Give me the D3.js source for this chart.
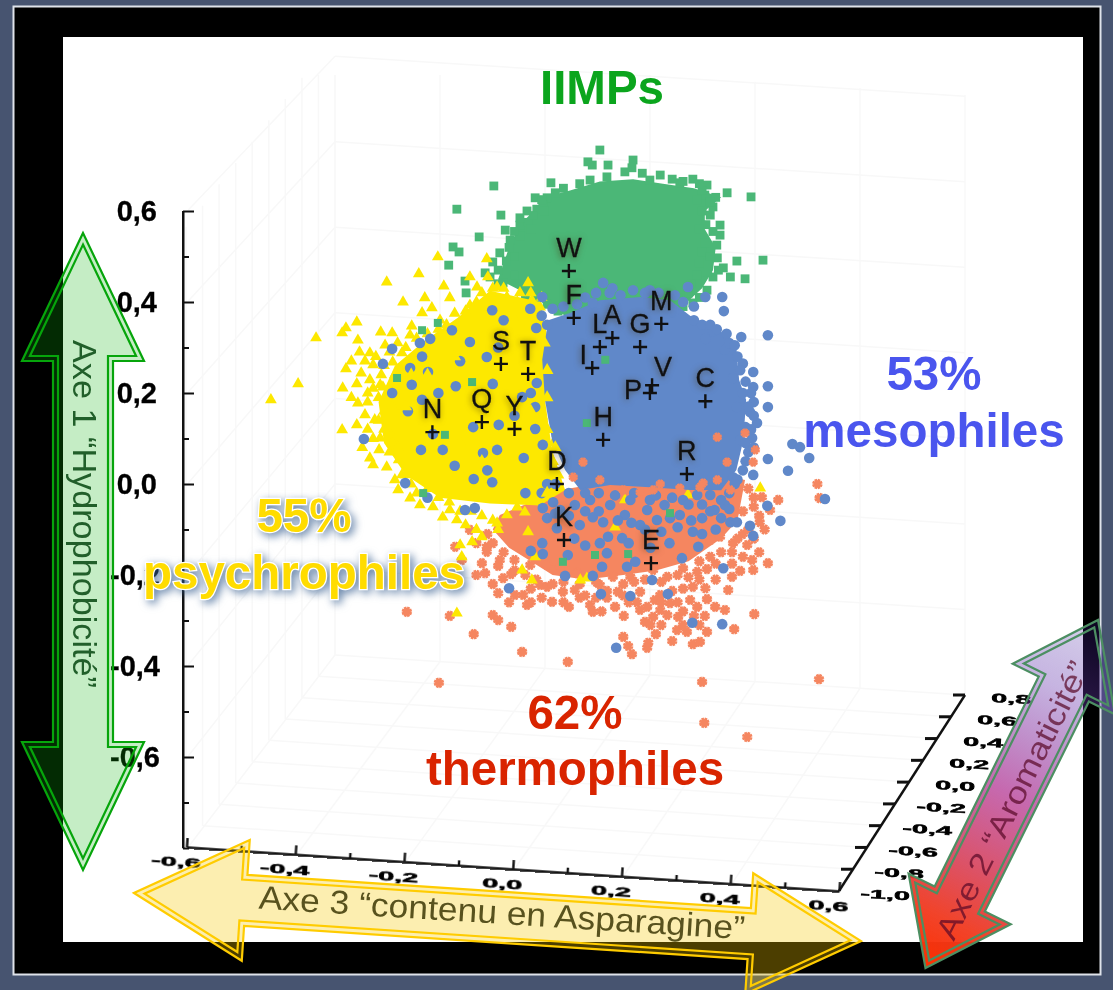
<!DOCTYPE html>
<html><head><meta charset="utf-8">
<script src="https://cdnjs.cloudflare.com/ajax/libs/d3/7.8.5/d3.min.js"></script>
<style>html,body{margin:0;padding:0;background:#475470}svg{display:block;font-family:"Liberation Sans",Arial,sans-serif}</style>
</head><body><svg id="c" width="1113" height="990"></svg>
<script>
// ---- tick values
const hydroMajor=[-0.6,-0.4,-0.2,0,0.2,0.4,0.6];
const hydroMinor=[-0.8,-0.7,-0.5,-0.3,-0.1,0.1,0.3,0.5];
const asnMajor=[-0.6,-0.4,-0.2,0,0.2,0.4,0.6];
const asnMinor=[-0.5,-0.3,-0.1,0.1,0.3,0.5];
const aroTicks=[-1,-0.8,-0.6,-0.4,-0.2,0,0.2,0.4,0.6,0.8];
// ---- dense core outlines of each cloud [axe 3, axe 1]
const greenCore=[[.102,.645],[.157,.665],[.218,.67],[.273,.66],[.33,.65],[.38,.63],[.35,.6],[.35,.56],[.37,.52],[.365,.47],[.345,.43],[.3,.38],[.108,.36],[.02,.42],[-.03,.45],[-.01,.52],[.01,.57],[.035,.6],[.07,.635]];
const blueCore=[[.062,.36],[.102,.376],[.157,.404],[.231,.411],[.286,.404],[.323,.37],[.38,.335],[.408,.3],[.413,.229],[.426,.185],[.421,.097],[.408,.031],[.38,-.014],[.323,-.013],[.249,-.007],[.176,-.002],[.121,-.013],[.093,.031],[.069,.097],[.056,.185],[.051,.273]];
const yellowCore=[[-.045,.425],[.047,.4],[.062,.316],[.056,.185],[.069,.075],[.093,-.013],[.047,-.047],[-.045,-.043],[-.137,-.03],[-.2,.02],[-.24,.09],[-.25,.18],[-.22,.26],[-.165,.315],[-.105,.365]];
const orangeCore=[[-.027,-.068],[.084,-.013],[.194,.009],[.341,.031],[.424,.009],[.41,-.08],[.38,-.12],[.32,-.17],[.26,-.19],[.2,-.2],[.13,-.21],[.07,-.2],[.03,-.17],[-.01,-.14],[-.04,-.1]];
// ---- individual points [axe 3, axe 1]
const greenPts=[[.157,.734],[.135,.708],[.143,.701],[.172,.701],[.218,.712],[.216,.695],[-.038,.655],[.067,.662],[-.106,.604],[.038,.629],[.06,.629],[.023,.6],[.041,.604],[-.025,.591],[-.017,.558],[-.065,.543],[-.113,.521],[-.102,.51],[-.121,.481],[-.091,.446],[-.089,.42],[.328,.67],[.354,.657],[.435,.631],[.378,.569],[.409,.49],[.457,.492],[.424,.451],[.397,.455],[.391,.64],[-.027,.508],[-.054,.464],[-.021,.442],[.365,.609],[.36,.591],[.378,.547],[.373,.497],[.384,.475],[.365,.455],[.336,.448],[.354,.426],[.328,.398],[.139,.668],[.203,.686],[.268,.679],[.249,.668],[.304,.662],[.052,.613],[.01,.569],[-.008,.536],[-.04,.488],
[.345,.6],[.352,.57],[.34,.56],[.365,.555],[.35,.53],[.372,.525],[.345,.51],[.36,.5],[.34,.485],[.375,.47],[.355,.465],[.335,.46],[.32,.42],[.34,.41],[.31,.39],[.325,.44],[.3,.41],[.37,.63],[.35,.635],[.335,.625],[.36,.62],[.345,.645],
[-.03,.47],[-.015,.49],[0,.46],[.015,.44],[.03,.43],[-.045,.455],[-.03,.44],[0,.5],[-.01,.52],[.01,.545],[0,.555],[.025,.575],[.01,.585],[.035,.59],[.055,.6],[.03,.56],[.05,.625],[.075,.64],[.09,.65],[.12,.66],[.17,.675],[.235,.683],[.29,.67],[.31,.665],[.34,.66],[.045,.41],[.06,.395],[.08,.38],[.03,.4],[.02,.415]];
const greenStray=[[-.141,.354],[-.17,.338],[-.216,.233],[-.078,.224],[-.128,.108],[-.168,-.02],[.089,-.171],[.148,-.156],[.209,-.154],[.286,-.064],[.167,.273],[.133,.134]];
const bluePts=[[.351,.411],[.382,.411],[.385,.38],[.417,.323],[.466,.327],[.365,.336],[.351,.319],[.387,.295],[.439,.246],[.466,.215],[.439,.213],[.466,.169],[.433,.158],[.446,.134],[.402,.233],[.409,.169],[.437,.101],[.466,.055],[.511,.088],[.525,.081],[.542,.057],[.503,.029],[.439,.02],[.402,.015],[.415,.097],[.489,-.081],[.571,-.033],[.465,-.048],[.433,-.092],[.439,-.114],[.397,-.084],[.338,-.138],[.384,-.185],[.308,-.163],[.253,-.211],[.282,-.242],[.213,-.246],[.159,-.242],[.327,-.305],[.382,-.308],[.187,-.36],[-.01,-.229],[.093,-.202],[.144,-.202],[.161,-.182],[.207,-.182],[.222,-.171],[.17,-.152],[.052,-.154],[.03,-.147],[.098,-.156],[.157,-.13],[.051,-.13],[.078,-.097],[.144,-.073],[.198,-.119],[.172,-.116],[.328,-.105],[.286,-.075],[.262,-.079],[.163,-.084],[.203,-.068],[.244,-.057],[.336,-.024],[.36,-.024],[.31,-.035],[.409,-.084],[.071,-.04],[.052,-.053],[-.073,-.053],[-.091,-.057],[-.201,.002],[-.041,.004],[-.277,.099],[-.225,.297],[-.242,.264],[-.192,.255],[-.159,.246],[-.189,.218],[-.225,.2],[-.196,.16],[-.17,.185],[-.108,.215],[-.115,.338],[-.174,.31],[-.155,.319],[-.082,.312],[-.041,.382],[.029,.385],[.051,.411],[.04,.343],[-.051,.279],[-.029,.13],[-.076,.125],[.038,.121],[-.032,.075],[-.058,.068],[.017,.057],[-.172,.075],[-.132,.075],[-.075,.011],[.052,.086],[.038,.169],[.014,.191],[.041,.222],[.163,.442],[.218,.426],[.249,.426],[.144,.398],[.319,.433],[.292,.378],[.084,-.057],[.111,-.046],[.139,-.035],[.176,-.046],[.213,-.035],[.249,-.035],[.276,-.046],[.304,-.068],[.368,-.057],[.387,-.046],[.231,-.09],[.12,-.09],
[.33,.36],[.345,.35],[.36,.35],[.372,.34],[.39,.33],[.395,.31],[.405,.305],[.41,.28],[.42,.265],[.415,.25],[.425,.225],[.435,.2],[.42,.2],[.44,.18],[.43,.17],[.44,.15],[.425,.125],[.435,.12],[.425,.09],[.43,.07],[.425,.05],[.42,.03],[.41,.01],[.395,-.02],[.38,-.035],[.405,0],[.44,.08],
[.05,.37],[.07,.385],[.09,.39],[.115,.395],[.13,.41],[.15,.42],[.175,.42],[.195,.415],[.24,.42],[.265,.42],[.295,.415],[.31,.4],[.33,.39],[.18,.43],[.06,.35],
[.1,-.02],[.13,-.02],[.155,-.02],[.185,-.025],[.22,-.02],[.26,-.025],[.29,-.03],[.32,-.045],[.345,-.045],[.36,-.06],[.38,-.075],[.345,-.075],[.325,-.08],[.3,-.095],[.27,-.105],[.24,-.1],[.215,-.085],[.19,-.08],[.155,-.06],[.13,-.06],[.1,-.07],[.075,-.065],[.21,-.13],[.25,-.14],[.285,-.13],[.13,-.135],[.11,-.12],[.345,-.11],[.37,-.1],[.395,-.055],[.06,-.075],[.05,-.02],[.06,0],[.075,0],
[-.17,.28],[-.1,.27],[-.03,.3],[-.02,.36],[-.14,.2],[-.04,.22],[-.15,.11],[0,.15],[-.11,.04],[-.05,.03],[-.16,-.03],[.02,-.02],[.03,.2]];
const orangePts=[[-.198,-.281],[-.119,-.29],[-.04,-.288],[-.03,-.299],[-.075,-.33],[-.006,-.314],[.014,-.369],[.098,-.391],[-.139,-.437],[.023,-.266],[.001,-.244],[.016,-.244],[-.021,-.207],[-.006,-.198],[-.054,-.196],[-.06,-.174],[-.051,-.149],[-.109,-.138],[-.051,-.138],[.047,-.222],[.06,-.226],[.069,-.259],[.089,-.237],[.111,-.233],[.139,-.266],[.144,-.281],[.201,-.29],[.2,-.336],[.209,-.356],[.216,-.374],[.244,-.36],[.246,-.349],[.29,-.345],[.328,-.352],[.341,-.347],[.354,-.325],[.317,-.325],[.404,-.319],[.441,-.286],[.369,-.27],[.336,-.27],[.354,-.253],[.328,-.226],[.351,-.229],[.393,-.233],[.4,-.204],[.415,-.191],[.439,-.189],[.466,-.174],[.437,-.167],[.354,-.187],[.336,-.193],[.31,-.185],[.428,-.134],[.402,-.13],[.378,-.116],[.36,-.123],[.301,-.292],[.281,-.288],[.255,-.292],[.24,-.303],[.244,-.27],[.268,-.244],[.286,-.262],[.299,-.321],[.185,-.27],[.19,-.237],[.231,-.237],[.157,-.222],[.181,-.204],[.213,-.204],[.255,-.189],[.281,-.204],[.06,-.178],[.084,-.182],[.115,-.196],[.345,-.435],[.56,-.429],[.349,-.525],[.428,-.556],[.557,0],[.485,-.035],[.455,-.029],[.268,-.277],[.323,-.255],[.387,-.277],[.258,-.255],[.231,-.277],[-.027,-.167],[.029,-.178],[0,-.167],[.451,-.084],[.47,-.057],[.561,-.031],[-.082,-.101],[-.097,-.167],
[-.05,-.11],[-.04,-.13],[-.02,-.15],[-.07,-.13],[-.03,-.18],[0,-.19],[.02,-.2],[.04,-.21],[.03,-.23],[.07,-.22],[.09,-.215],[.12,-.22],[.15,-.215],[.13,-.245],[.17,-.235],[.2,-.22],[.22,-.215],[.24,-.21],[.27,-.215],[.3,-.2],[.32,-.205],[.34,-.17],[.36,-.16],[.38,-.15],[.4,-.15],[.42,-.11],[.43,-.1],[.44,-.12],[.45,-.15],[.42,-.16],[.4,-.175],[.37,-.175],[.37,-.21],[.34,-.21],[.31,-.23],[.29,-.235],[.27,-.26],[.3,-.26],[.31,-.28],[.33,-.29],[.35,-.29],[.25,-.31],[.27,-.31],[.26,-.33],[.31,-.31],[.34,-.31],[.21,-.26],[.17,-.25],[.15,-.25],[.2,-.245],[.225,-.26],[.16,-.28],[.12,-.25],[.09,-.26],[.1,-.27],[.05,-.25],[.03,-.26],[-.01,-.26],[-.04,-.22],[-.03,-.24],[-.07,-.2],[.42,-.06],[.44,-.05],[.44,-.03],[.43,-.01],[.45,-.07],[.46,-.1],[.41,-.12]];
const orangeOverBlue=[[.373,.103],[.424,.112],[.443,.075],[.439,.048],[.373,.009],[.347,.002],[.391,.048],[.255,-.013],[.2,-.013],[.157,.009],[.126,.048],[.108,.015],[.397,-.013],[.341,-.007],[.304,-.009],[.268,0],[.231,-.018]];
const yellowPts=[[-.141,.499],[-.176,.462],[-.235,.444],[-.205,.4],[-.165,.409],[-.13,.435],[-.119,.409],[-.17,.376],[-.152,.387],[-.29,.356],[-.31,.343],[-.317,.332],[-.246,.334],[-.225,.332],[-.288,.316],[-.189,.347],[-.31,.253],[-.282,.244],[-.266,.229],[-.316,.211],[-.247,.218],[-.288,.178],[-.27,.18],[-.224,.169],[-.266,.288],[-.26,.262],[-.317,.119],[-.247,.101],[-.225,.09],[-.249,.075],[-.266,.057],[-.26,.042],[-.235,.037],[-.213,.053],[-.207,.02],[-.214,-.013],[-.051,.495],[-.082,.455],[-.069,.433],[-.207,.288],[-.224,.268],[-.242,.213],[-.229,.112],[-.365,.321],[-.398,.22],[-.448,.185],[-.192,-.031],[-.132,-.073],[-.106,-.079],[-.1,-.134],[-.078,-.127],[-.06,-.116],[-.097,-.16],[.014,-.189],[.032,-.211],[.038,-.16],[.121,-.211],[.133,-.207],[-.106,-.284],[-.032,-.086],[.005,-.051],[.025,-.105],[-.014,-.068],[.019,-.062],[.452,-.009],[.319,-.024],[.203,-.035],[.185,-.095],[.025,.442],[.005,.4],[.032,.404],[.047,.389],[-.049,.455],[-.014,.411],[-.032,.433],[.062,.262],[.047,.189],[.084,.097],[.071,.09],[.089,.086],[.078,.112],[-.238,.305],[-.257,.141],[-.275,.152],[-.192,.327],[-.137,.36],[-.082,.393],[-.119,-.057],[-.174,-.046],[-.22,.009],
[-.26,.21],[-.25,.19],[-.24,.16],[-.25,.14],[-.24,.12],[-.26,.1],[-.23,.07],[-.215,.08],[-.2,.02],[-.19,0],[-.18,-.02],[-.16,-.01],[-.14,-.03],[-.15,-.05],[-.12,-.04],[-.1,-.06],[-.08,-.06],[-.06,-.07],[-.04,-.08],[-.09,-.09],[-.07,-.1],[-.03,-.1],[-.24,.26],[-.23,.29],[-.215,.31],[-.2,.3],[-.18,.32],[-.16,.33],[-.14,.34],[-.125,.35],[-.11,.375],[-.09,.38],[-.07,.4],[-.06,.42],[-.04,.43],[-.02,.43],[.01,.42],[.03,.42],[.05,.41],[.045,.37],[-.22,.24],[-.245,.24],[-.255,.28],[-.275,.27],[-.285,.29],[-.3,.27],[-.27,.2],[-.29,.22],[-.27,.12],[-.29,.13],[-.28,.08],[-.3,.19]];
const yellowOverBlue=[[.055,.31],[.06,.25],[.05,.15],[.06,.12],[.07,.05],[.08,.02],[.06,-.02],[.03,.16],[-.02,.2],[-.08,.2],[-.13,.17],[-.16,.24],[-.06,.32],[0,.36],[.02,.12],[-.04,.1],[-.1,.09],[-.15,.07],[.075,.08],[.06,.19],[-.19,.24],[-.11,.28],[-.2,.17],[-.06,.05],[-.1,.02],[-.02,.06]];
// ---- amino acids
const aaNames=["W","F","L","A","G","M","I","V","P","C","H","R","D","S","T","N","Q","Y","K","E"];
const aaAxe3=[.100,.109,.157,.180,.231,.270,.143,.253,.249,.351,.163,.317,.078,-.025,.025,-.151,-.060,0,.091,.251];
const aaAxe1=[.468,.365,.301,.321,.301,.352,.255,.217,.200,.182,.097,.022,0,.264,.242,.114,.136,.121,-.123,-.174];
// ---- texts
const axis1Title="Axe 1 “Hydrophobicité”", axis2Title="Axe 2 “Aromaticité”", axis3Title="Axe 3 “contenu en Asparagine”";

const svg=d3.select("#c");
const W=1113,H=990;
svg.append("rect").attr("width",W).attr("height",H).attr("fill","#475470");
svg.append("rect").attr("x",13.5).attr("y",6.5).attr("width",1087).attr("height",968).attr("fill","#000").attr("stroke","#dfe3ea").attr("stroke-width",2);
svg.append("rect").attr("x",63).attr("y",37).attr("width",1020).attr("height",905).attr("fill","#fff");

const x=d3.scaleLinear([-0.6,0.6],[188.25,840.75]);
const y=d3.scaleLinear([-0.8,0.6],[848,211]);
const zx=d3.scaleLinear([-1,0.8],[839,965]);
const zy=d3.scaleLinear([-1,0.8],[891,695]);

// faint 3-D box grid
const grid=svg.append("g").attr("fill","none").attr("stroke","#f8f8f8").attr("stroke-width",1.5);
const backLX=d3.scaleLinear([-0.6,0.6],[335,965]), backLY=d3.scaleLinear([-0.6,0.6],[655,695]);
const frontY=d3.scaleLinear([-0.6,0.6],[847,891]);
const leftX=d3.scaleLinear([-1,0.8],[186,335]), leftY=d3.scaleLinear([-1,0.8],[847,655]);
const clip=v=>Math.max(v,75);
asnMajor.forEach(a=>{
  grid.append("line").attr("x1",x(a)).attr("y1",frontY(a)).attr("x2",backLX(a)).attr("y2",backLY(a));
  grid.append("line").attr("x1",backLX(a)).attr("y1",backLY(a)).attr("x2",backLX(a)).attr("y2",clip(backLY(a)-600));
});
aroTicks.forEach(b=>{
  grid.append("line").attr("x1",leftX(b)).attr("y1",leftY(b)).attr("x2",zx(b)).attr("y2",zy(b));
  grid.append("line").attr("x1",leftX(b)).attr("y1",leftY(b)).attr("x2",leftX(b)).attr("y2",clip(leftY(b)-620));
});
hydroMajor.forEach(h=>{
  const dy=y(h)-y(-0.8);
  grid.append("line").attr("x1",backLX(-0.6)).attr("y1",backLY(-0.6)+dy*.94).attr("x2",backLX(0.6)).attr("y2",backLY(0.6)+dy*.94);
  grid.append("line").attr("x1",x(-0.6)).attr("y1",847+dy).attr("x2",backLX(-0.6)).attr("y2",backLY(-0.6)+dy*.94);
});

const soft=svg.append("g").style("filter","blur(0.45px)");
// hydrophobicity axis
const fmt=d=>d3.format(".1f")(d).replace("−","-").replace(".",",");
const ya=soft.append("g").attr("transform","translate(183,0)");
ya.call(d3.axisLeft(y).tickValues(hydroMinor).tickSize(-6).tickFormat(""));
ya.call(g=>g.selectAll(".domain").remove());
const ya2=soft.append("g").attr("transform","translate(183,0)");
ya2.call(d3.axisLeft(y).tickValues(hydroMajor).tickSize(-11).tickSizeOuter(0).tickPadding(26).tickFormat(fmt));
ya2.selectAll("text").attr("font-size",29).attr("font-weight",700).attr("font-family","Liberation Sans").attr("fill","#000")
  .attr("dx",d=>d<0?3:0).attr("stroke","#000").attr("stroke-width",.3);
soft.selectAll("line,.domain").attr("stroke","#111").attr("stroke-width",2);
soft.append("line").attr("x1",183).attr("x2",183).attr("y1",y(0.6)).attr("y2",y(-0.8)).attr("stroke","#111").attr("stroke-width",2);

// Asparagine axis (tilted)
const dxA=652.5,dyA=44,lenA=Math.hypot(dxA,dyA),angA=Math.atan2(dyA,dxA)*180/Math.PI;
const xa=d3.scaleLinear([-0.6,0.6],[0,lenA]);
const xg=soft.append("g").attr("transform",`translate(186.5,847) rotate(${angA})`);
const xMinor=xg.append("g").call(d3.axisBottom(xa).tickValues(asnMinor).tickSize(-5).tickFormat(""));
xMinor.selectAll(".domain").remove();
const xMajor=xg.append("g").call(d3.axisBottom(xa).tickValues(asnMajor).tickSize(-9).tickSizeOuter(0).tickFormat(fmt));
xMajor.selectAll("text").attr("y",0).attr("dy",0).attr("font-size",12.5).attr("font-weight",700).attr("font-family","Liberation Sans").attr("fill","#000").attr("stroke","#000").attr("stroke-width",.5)
  .attr("transform","translate(-10,20) scale(2.3,1)");
xg.selectAll("line,.domain").attr("stroke","#111").attr("stroke-width",2.4);

// Aromaticity axis (oblique)
const zg=soft.append("g");
zg.append("line").attr("x1",zx(-1)).attr("y1",zy(-1)).attr("x2",zx(0.8)).attr("y2",zy(0.8)).attr("stroke","#111").attr("stroke-width",2.4);
zg.selectAll("line.t").data(aroTicks.slice(1)).join("line").attr("class","t").attr("x1",d=>zx(d)).attr("y1",d=>zy(d)).attr("x2",d=>zx(d)-12).attr("y2",d=>zy(d)).attr("stroke","#111").attr("stroke-width",3);
zg.selectAll("text").data(aroTicks).join("text").attr("text-anchor","middle").attr("font-size",12.5).attr("font-weight",700).attr("fill","#000").attr("stroke","#000").attr("stroke-width",.5)
  .attr("transform",d=>`translate(${zx(d)+46},${zy(d)+8}) rotate(3) scale(2.3,1)`).text(fmt);

// point clouds
const star={draw(c,size){const r=Math.sqrt(size);for(let i=0;i<4;i++){const a=i*Math.PI/4+Math.PI/8;c.moveTo(-r*Math.cos(a),-r*Math.sin(a));c.lineTo(r*Math.cos(a),r*Math.sin(a));}}};
const cGreen="#4bb777",cBlue="#6088c9",cYellow="#fde800",cOrange="#f58660";
const outline=d3.line(d=>x(d[0]),d=>y(d[1])).curve(d3.curveLinearClosed);
const marks=svg.append("g").style("filter","blur(0.4px)");
const core=(data,col)=>marks.append("path").datum(data).attr("d",outline).attr("fill",col);
const pts=(data,type,size,col,stroke)=>marks.append("g").selectAll("path").data(data).join("path")
  .attr("transform",d=>`translate(${x(d[0])},${y(d[1])})`)
  .attr("d",d3.symbol().type(type).size(size))
  .attr("fill",stroke?"none":col).attr("stroke",stroke?col:"none").attr("stroke-width",stroke||0);
core(greenCore,cGreen); pts(greenPts,d3.symbolSquare,78,cGreen);
core(orangeCore,cOrange); pts(orangePts,star,27,cOrange,2.8);
core(yellowCore,cYellow); pts(yellowPts,d3.symbolTriangle,60,cYellow);
core(blueCore,cBlue); pts(bluePts,d3.symbolCircle,88,cBlue);
pts(orangeOverBlue,star,22,cOrange,2.6);
pts(yellowOverBlue,d3.symbolTriangle,70,cYellow);
pts(greenStray,d3.symbolSquare,64,cGreen);

// amino acid labels & crosses
const labelDx={I:-9,V:11,P:-17};
const labelDy={I:-14,V:-19,P:-4};
const aa=aaNames.map((n,i)=>({n,a:aaAxe3[i],h:aaAxe1[i]}));
const aag=svg.append("g");
aag.selectAll("path").data(aa).join("path").attr("transform",d=>`translate(${x(d.a)},${y(d.h)})`)
  .attr("d",d3.symbol().type({draw(c){c.moveTo(-7,0);c.lineTo(7,0);c.moveTo(0,-7);c.lineTo(0,7);}})).attr("fill","none").attr("stroke","#111").attr("stroke-width",2.4);
aag.selectAll("text").data(aa).join("text").attr("text-anchor","middle").attr("font-size",27).attr("fill","#111").attr("stroke","#111").attr("stroke-width",.3)
  .style("filter","drop-shadow(-1px 1px 3px rgba(70,50,10,.55))")
  .attr("x",d=>x(d.a)+(labelDx[d.n]||0)).attr("y",d=>y(d.h)+(labelDy[d.n]??-24)+10).text(d=>d.n);

// large captions
const cap=(t,cx,by,col,extra)=>{const s=svg.append("text").attr("x",cx).attr("y",by).attr("text-anchor","middle").attr("font-size",47.5).attr("font-weight",700).attr("fill",col).text(t);if(extra)extra(s);return s;};
cap("IIMPs",602,104,"#0ba51d");
cap("53%",934,390,"#4a55ee");cap("mesophiles",934,447,"#4a55ee");
cap("62%",575,729,"#d92400");cap("thermophiles",575,785,"#d92400");
const glow=s=>s.attr("stroke","#fff").attr("stroke-width",2.5).attr("paint-order","stroke").style("filter","drop-shadow(3px 3px 4px rgba(50,90,140,.75))");
cap("55%",304,532,"#ffdc00",glow);cap("psychrophiles",304,589,"#ffdc00",glow);

// double-outlined block arrows
function arrowPoly(p,q,hl,hw,sw,d){
  const L=Math.hypot(q[0]-p[0],q[1]-p[1]),ux=(q[0]-p[0])/L,uy=(q[1]-p[1])/L,vx=-uy,vy=ux;
  const th=Math.atan2(hw,hl),tip=d/Math.sin(th),base=hl-d,bw=(base-tip)*Math.tan(th),s=sw-d;
  const P=(a,b)=>[p[0]+ux*a+vx*b,p[1]+uy*a+vy*b];
  return "M"+[P(tip,0),P(base,bw),P(base,s),P(L-base,s),P(L-base,bw),P(L-tip,0),P(L-base,-bw),P(L-base,-s),P(base,-s),P(base,-bw)].map(a=>a.join(",")).join("L")+"Z";
}
function arrow(p,q,hl,hw,sw,fill,stroke){
  const g=svg.append("g");
  g.append("path").attr("d",arrowPoly(p,q,hl,hw,sw,0)).attr("fill",fill);
  g.append("path").attr("d",arrowPoly(p,q,hl,hw,sw,0)).attr("fill","none").attr("stroke",stroke).attr("stroke-width",2.2).attr("stroke-linejoin","miter");
  g.append("path").attr("d",arrowPoly(p,q,hl,hw,sw,5)).attr("fill","none").attr("stroke",stroke).attr("stroke-width",2.2);
  return g;
}
arrow([83,233],[83,870],128,61,30,"rgba(12,179,12,.24)","#06a50b");
svg.append("text").attr("transform","translate(85,514) rotate(90)").attr("text-anchor","middle").attr("dy",".36em").attr("font-size",33).attr("fill","rgba(5,70,15,.85)").attr("textLength",348).attr("lengthAdjust","spacingAndGlyphs").text(axis1Title);

arrow([134,893],[861,941],112,60.5,25.5,"rgba(245,200,0,.31)","#ffcc00");
svg.append("text").attr("transform","translate(502,912) rotate(3.6)").attr("text-anchor","middle").attr("dy",".36em").attr("font-size",33).attr("fill","rgba(60,55,5,.85)").attr("textLength",487).attr("lengthAdjust","spacingAndGlyphs").text(axis3Title);

const defs=svg.append("defs");
const gr=defs.append("linearGradient").attr("id","aro").attr("gradientUnits","userSpaceOnUse").attr("x1",925).attr("y1",968).attr("x2",1098).attr("y2",620);
[[0,"#ff3000",1],[.14,"#f03a20",.95],[.5,"#b02f90",.72],[.8,"#6a3ab0",.38],[1,"#4020a0",.2]].forEach(s=>gr.append("stop").attr("offset",s[0]).attr("stop-color",s[1]).attr("stop-opacity",s[2]));
arrow([925.5,968],[1098,620],77,57,28,"url(#aro)","#4c8f62");
svg.append("text").attr("transform","translate(1012,800) rotate(-63.5)").attr("text-anchor","middle").attr("dy",".36em").attr("font-size",31).attr("fill","rgba(90,10,40,.72)").attr("textLength",306).attr("lengthAdjust","spacingAndGlyphs").text(axis2Title);
</script></body></html>
